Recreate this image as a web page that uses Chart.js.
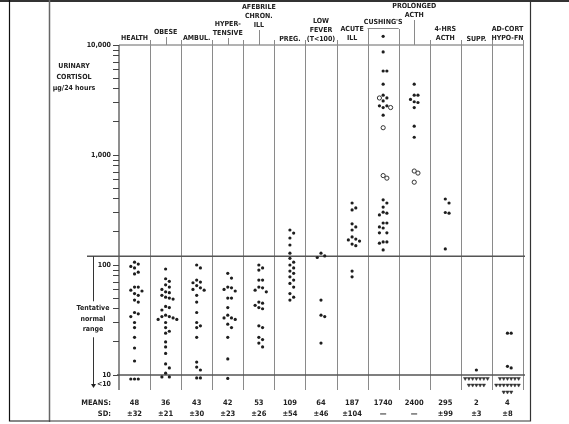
<!DOCTYPE html>
<html><head><meta charset="utf-8">
<script src="https://cdn.jsdelivr.net/npm/chart.js@4/dist/chart.umd.min.js"></script>
<style>html,body{margin:0;padding:0;background:#fff;}#wrap{width:569px;height:424px;position:relative;}</style>
</head><body><div id="wrap"><canvas id="c" width="569" height="424"></canvas></div>
<script>
// ---------- DATA ----------
const categories = [["HEALTH"],["OBESE"],["AMBUL."],["HYPER-","TENSIVE"],["AFEBRILE","CHRON.","ILL"],["PREG."],["LOW","FEVER","(T<100)"],["ACUTE","ILL"],["CUSHING'S"],["PROLONGED","ACTH"],["4-HRS","ACTH"],["SUPP."],["AD-CORT","HYPO-FN"]];
const meansText = ["48","36","43","42","53","109","64","187","1740","2400","295","2","4"];
const sdText = ["±32","±21","±30","±23","±26","±54","±46","±104","—","—","±99","±3","±8"];
const yTickValues = [10,20,30,40,50,60,70,80,90,100,200,300,400,500,600,700,800,900,1000,2000,3000,4000,5000,6000,7000,8000,9000,10000];
const yTickLabels = {10:"10",100:"100",1000:"1,000",10000:"10,000"};
const belowTenLabel = "<10";
const belowTenValue = 8.3;
const normalRangeTop = 120;
const normalRangeBottom = 10;

const health = [106,102,97,94,86,83,63,63,59,58,55,53,48,46,37,36,34,30,27,22,17.6,13.4,9.2,9.2,9.2];
const obese = [92,75,71,66,63,60,57,56,53,51,50,49,42,41,39,35,34,34,33,32,32,30,27,25,24,20,18,15.7,12.6,11.6,10.4,9.6,9.6];
const ambul = [100,94,73,70,69,65,62,60,59,53,46,37,30,28,27,22,13.1,11.8,11.1,9.4,9.4];
const hypertensive = [84,76,63,62,60,58,50,50,41,35,33,33,32,29,27,22,14,9.3];
const afebrileChronIll = [100,94,90,73,73,63,62,59,57,46,45,43,41,40,28,27,22,21,19.5,18];
const pregnancy = [208,195,176,152,128,115,106,100,94,88,84,78,73,68,63,55,51,48];
const lowFever = [128,121,117,48,35,34,19.5];
const acuteIll = [366,330,317,237,222,208,180,172,169,165,155,150,88,78];
const cushings = [12000,8650,5800,5800,4400,3500,3300,3100,2800,2800,2700,2300,391,366,336,302,296,285,241,241,222,217,196,196,162,162,158,137];
const cushingsOpen = [3300,2700,1770,650,616];
const prolongedActh = [4400,3500,3500,3200,3050,3000,2700,1830,1450];
const prolongedActhOpen = [715,685,566];
const fourHrActh = [398,366,300,296,140];
const suppression = [11.1,9.3,9.3,9.3,9.3,9.3,9.3,9.3,8.1,8.1,8.1,8.1,8.1];
const adrenalHypofunction = [24,24,12,11.6,9.3,9.3,9.3,9.3,9.3,9.3,8.1,8.1,8.1,8.1,8.1,8.1,8.1,7.0,7.0,7.0];

const filledByColumn = [health,obese,ambul,hypertensive,afebrileChronIll,pregnancy,lowFever,acuteIll,cushings,prolongedActh,fourHrActh,suppression,adrenalHypofunction];
const openByColumn = {8:cushingsOpen, 9:prolongedActhOpen};
const vMarkColumns = [11,12];

// ---------- build point sets (simple dodge so coincident points sit side by side) ----------
const dotPts=[], openPts=[], vPts=[];
filledByColumn.forEach((vals,i)=>{
  const items = vals.map(v=>({v,t:(vMarkColumns.includes(i)&&v<10)?'v':'d'}));
  (openByColumn[i]||[]).forEach(v=>items.push({v,t:'o'}));
  items.sort((a,b)=>b.v-a.v);
  const placed=[];
  items.forEach(it=>{
    const lv=Math.log10(it.v);
    let off=0;
    for(const k of [0,1,-1,2,-2,3,-3,4,-4]){
      const o=k*0.12;
      const clash=placed.some(p=>Math.abs(p.o-o)<0.06 && Math.abs(p.lv-lv)<0.045);
      if(!clash){off=o;break;}
    }
    placed.push({o:off,lv});
    const pt={x:i+off,y:it.v};
    if(it.t==='o') openPts.push(pt); else if(it.t==='v') vPts.push(pt); else dotPts.push(pt);
  });
});

const FONT="'DejaVu Sans Condensed','Liberation Sans Narrow','DejaVu Sans',sans-serif";
const headerCenterY=[38,32,38,33,25,39,39,38,22,15,38,39,38];

const decor = {
  id:'decor',
  beforeDatasetsDraw(chart){
    const c=chart.ctx, xs=chart.scales.x, ys=chart.scales.y, a=chart.chartArea;
    const yTop=ys.getPixelForValue(10000), yBot=a.bottom;
    c.save();
    // frame
    c.fillStyle='#333'; c.fillRect(0,0,569,2);
    c.strokeStyle='#111'; c.lineWidth=1.2;
    c.beginPath(); c.moveTo(9.5,0); c.lineTo(9.5,421); c.lineTo(49,421); c.stroke();
    c.strokeStyle='#666'; c.lineWidth=1.5;
    c.beginPath(); c.moveTo(49.5,0); c.lineTo(49.5,422); c.stroke();
    c.strokeStyle='#333'; c.lineWidth=1.2;
    c.beginPath(); c.moveTo(49,421); c.lineTo(530.5,421); c.lineTo(530.5,0); c.stroke();
    // y axis line
    c.strokeStyle='#444'; c.lineWidth=1.2;
    c.beginPath(); c.moveTo(a.left,yTop); c.lineTo(a.left,yBot); c.stroke();
    // header line
    c.strokeStyle='#666'; c.lineWidth=1;
    c.beginPath(); c.moveTo(a.left,yTop); c.lineTo(xs.getPixelForValue(categories.length-0.5),yTop); c.stroke();
    // column separators
    c.strokeStyle='#8a8a8a'; c.lineWidth=1;
    for(let i=1;i<=categories.length;i++){
      const x=Math.round(xs.getPixelForValue(i-0.5))+0.5;
      const top=(i===8||i===9)?yTop-16:yTop-5;
      c.beginPath(); c.moveTo(x,top); c.lineTo(x,yBot); c.stroke();
    }
    // Cushing's box top
    const bx0=xs.getPixelForValue(7.5), bx1=xs.getPixelForValue(8.5);
    c.beginPath(); c.moveTo(bx0,yTop-16.5); c.lineTo(bx1,yTop-16.5); c.stroke();
    // connectors under raised headers
    [1,3,4,9].forEach(i=>{
      const x=Math.round(xs.getPixelForValue(i))+0.5;
      c.beginPath(); c.moveTo(x,headerCenterY[i]+5); c.lineTo(x,yTop); c.stroke();
    });
    // normal range lines
    c.strokeStyle='#555'; c.lineWidth=1.5;
    const yN=ys.getPixelForValue(normalRangeTop), y10=ys.getPixelForValue(normalRangeBottom);
    const xr=xs.getPixelForValue(categories.length-0.5)+2;
    c.beginPath(); c.moveTo(87,yN); c.lineTo(xr,yN); c.stroke();
    c.beginPath(); c.moveTo(a.left-2,y10); c.lineTo(xr,y10); c.stroke();
    // arrow
    c.strokeStyle='#333'; c.lineWidth=1;
    c.beginPath(); c.moveTo(93.5,yN); c.lineTo(93.5,yN+45); c.stroke();
    c.beginPath(); c.moveTo(93.5,yN+81); c.lineTo(93.5,yBot-5); c.stroke();
    c.fillStyle='#222'; c.beginPath(); c.moveTo(91,yBot-6); c.lineTo(96,yBot-6); c.lineTo(93.5,yBot-2); c.closePath(); c.fill();
    // texts
    c.fillStyle='#222'; c.textAlign='center'; c.textBaseline='middle';
    c.font='bold 7px '+FONT;
    categories.forEach((lines,i)=>{
      const x=xs.getPixelForValue(i);
      lines.forEach((s,j)=>c.fillText(s,x,headerCenterY[i]-(lines.length-1-j)*9));
    });
    ["URINARY","CORTISOL","μg/24 hours"].forEach((s,j)=>c.fillText(s,74,66+j*11));
    ["Tentative","normal","range"].forEach((s,j)=>c.fillText(s,93,yN+52+j*10.5));
    c.font='bold 7.5px '+FONT;
    c.textAlign='right';
    c.fillText("MEANS:",111,403); c.fillText("SD:",111,414);
    c.textAlign='center';
    for(let i=0;i<categories.length;i++){
      const x=xs.getPixelForValue(i);
      c.fillText(meansText[i],x,403); c.fillText(sdText[i],x,414);
    }
    c.restore();
  }
};

const yMin=Math.pow(10,1-15/110), yMax=Math.pow(10,4+15/110);
new Chart(document.getElementById('c'),{
  type:'scatter',
  data:{datasets:[
    {data:dotPts,pointStyle:'circle',pointRadius:1.6,backgroundColor:'#1e1e1e',borderWidth:0},
    {data:openPts,pointStyle:'circle',pointRadius:2.1,backgroundColor:'#fff',borderColor:'#333',borderWidth:1},
    {data:vPts,pointStyle:'triangle',rotation:180,pointRadius:2.0,backgroundColor:'#333',borderColor:'#333',borderWidth:0.5}
  ]},
  options:{
    responsive:false,animation:false,events:[],clip:false,
    layout:{padding:{top:30,bottom:34,left:0,right:46}},
    plugins:{legend:{display:false},tooltip:{enabled:false}},
    scales:{
      x:{type:'linear',min:-0.5,max:categories.length-0.5,display:false},
      y:{type:'logarithmic',min:yMin,max:yMax,
        afterFit(s){s.width=119;},
        afterBuildTicks(s){s.ticks=yTickValues.concat([belowTenValue]).map(v=>({value:v}));},
        border:{display:false},
        grid:{drawOnChartArea:false,drawTicks:true,tickLength:6,tickWidth:1,
          tickColor:(ctx)=>(ctx.tick&&ctx.tick.value===belowTenValue)?'rgba(0,0,0,0)':'#444'},
        ticks:{autoSkip:false,padding:2,color:'#222',font:{family:FONT,size:7,weight:'bold'},
          callback:(v)=>v===belowTenValue?belowTenLabel:(yTickLabels[v]||'')}
      }
    }
  },
  plugins:[decor]
});
</script></body></html>
